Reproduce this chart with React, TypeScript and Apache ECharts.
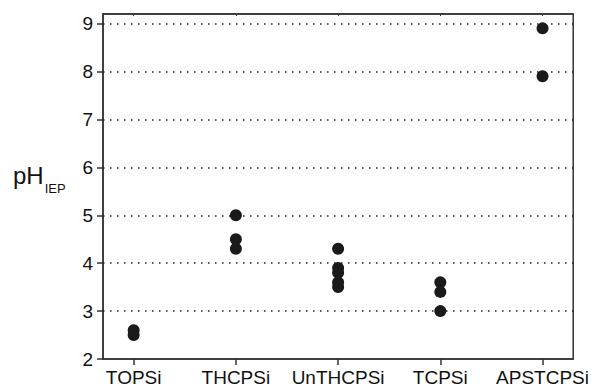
import React, { useEffect, useRef } from "react";
import * as echarts from "echarts";

const categories = ["TOPSi", "THCPSi", "UnTHCPSi", "TCPSi", "APSTCPSi"];
const yTicks = [2, 3, 4, 5, 6, 7, 8, 9];
const topsi = [2.5, 2.6];
const thcpsi = [5.0, 4.5, 4.3];
const unthcpsi = [4.3, 3.9, 3.8, 3.6, 3.5];
const tcpsi = [3.6, 3.4, 3.0];
const apstcpsi = [8.9, 7.9];

const groups = [topsi, thcpsi, unthcpsi, tcpsi, apstcpsi];

export default function App() {
  const ref = useRef<HTMLDivElement>(null);
  useEffect(() => {
    if (!ref.current) return;
    const chart = echarts.init(ref.current, null, { renderer: "svg" });
    const data: number[][] = [];
    groups.forEach((g, i) => g.forEach((v) => data.push([i, v])));
    const catIdx = categories.map((_, i) => i);
    const font = "Liberation Sans";
    chart.setOption({
      animation: false,
      backgroundColor: "#ffffff",
      grid: {
        left: 103,
        right: 18,
        top: 14,
        bottom: 29,
        show: true,
        borderColor: "#333",
        borderWidth: 1.5,
      },
      xAxis: [
        {
          type: "value",
          min: -0.3,
          max: 4.3,
          axisLine: { show: true, onZero: false, lineStyle: { color: "#333", width: 1.5 } },
          axisTick: {
            show: true,
            customValues: catIdx,
            length: 6,
            lineStyle: { color: "#333", width: 1.5 },
          },
          axisLabel: {
            customValues: catIdx,
            formatter: (v: number) => categories[Math.round(v)] ?? "",
            color: "#111",
            fontSize: 19,
            fontFamily: font,
            margin: 9,
          },
          splitLine: { show: false },
        },
        {
          type: "value",
          position: "top",
          min: -0.3,
          max: 4.3,
          axisLine: { show: true, onZero: false, lineStyle: { color: "#333", width: 1.5 } },
          axisTick: {
            show: true,
            inside: true,
            customValues: catIdx,
            length: 2,
            lineStyle: { color: "#333", width: 1 },
          },
          axisLabel: { show: false },
          splitLine: { show: false },
        },
      ],
      yAxis: {
        type: "value",
        min: 2,
        max: 9.2,
        axisLine: { show: true, onZero: false, lineStyle: { color: "#333", width: 1.5 } },
        axisTick: {
          show: true,
          customValues: yTicks,
          length: 6,
          lineStyle: { color: "#333", width: 1.5 },
        },
        axisLabel: {
          customValues: yTicks,
          color: "#111",
          fontSize: 19,
          fontFamily: font,
          margin: 10,
        },
        splitLine: { show: false },
      },
      series: [
        {
          type: "scatter",
          data,
          symbol: "circle",
          symbolSize: 12,
          itemStyle: { color: "#1a1a1a", opacity: 1 },
          z: 5,
        },
        {
          type: "line",
          data: [],
          markLine: {
            silent: true,
            symbol: "none",
            label: { show: false },
            lineStyle: { type: [1.5, 5.5], color: "#222", width: 1.5 },
            data: yTicks.filter((t) => t > 2).map((t) => ({ yAxis: t })),
          },
        },
      ],
      graphic: [
        {
          type: "text",
          left: 13,
          top: 163,
          style: {
            text: "{a|pH}{b|IEP}",
            rich: {
              a: { fontSize: 24, fontFamily: font, fill: "#111", verticalAlign: "bottom" },
              b: {
                fontSize: 13,
                fontFamily: font,
                fill: "#111",
                verticalAlign: "bottom",
                padding: [0, 0, -8, 1],
              },
            },
          },
        },
      ],
    });
    return () => chart.dispose();
  }, []);
  return <div ref={ref} style={{ width: 592, height: 388, position: "absolute", left: 0, top: 0 }} />;
}
